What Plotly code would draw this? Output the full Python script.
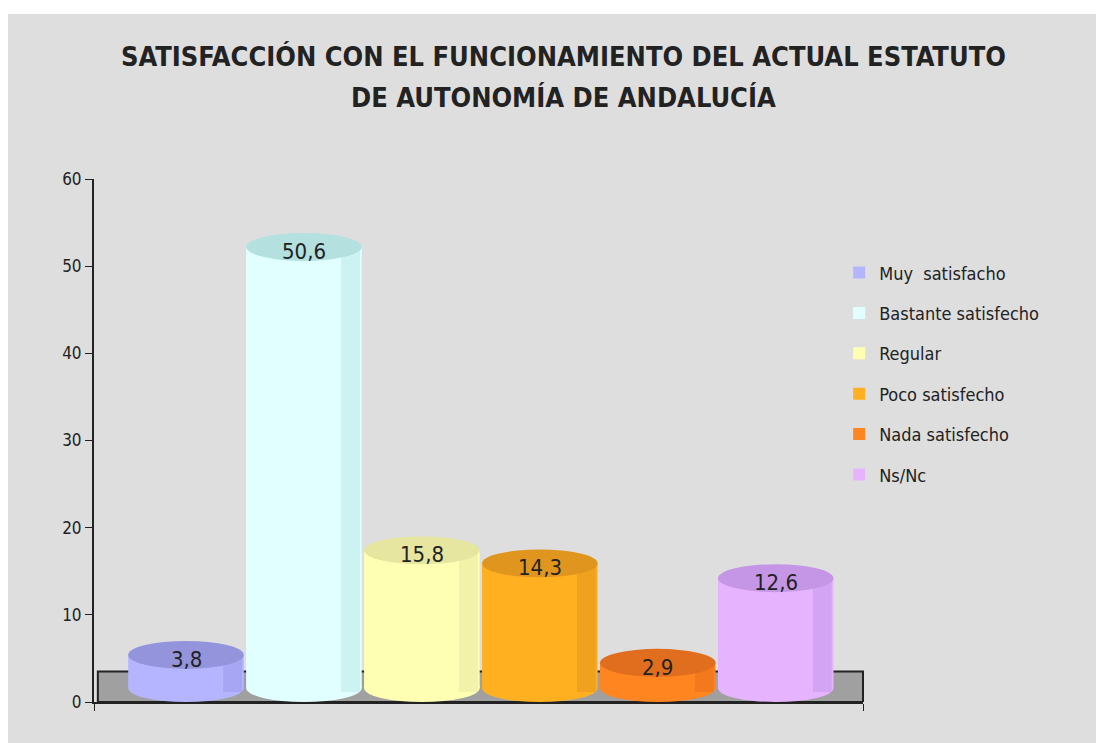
import plotly.graph_objects as go

categories = ["Muy  satisfacho", "Bastante satisfecho", "Regular",
              "Poco satisfecho", "Nada satisfecho", "Ns/Nc"]
values = [3.8, 50.6, 15.8, 14.3, 2.9, 12.6]
labels = ["3,8", "50,6", "15,8", "14,3", "2,9", "12,6"]
y_ticks = [0, 10, 20, 30, 40, 50, 60]
title_lines = ["SATISFACCIÓN CON EL FUNCIONAMIENTO DEL ACTUAL ESTATUTO",
               "DE AUTONOMÍA DE ANDALUCÍA"]

front_colors = ["#b4b4ff", "#e2ffff", "#ffffb4", "#ffb020", "#ff8520", "#e6b4ff"]
shade_colors = ["#a6a6f4", "#cdf2f2", "#f2f2aa", "#f0a21e", "#f27a1c", "#d4a4f4"]
cap_colors = ["#9494dc", "#b4e0e0", "#e6e6a0", "#e0961e", "#e06e1e", "#c696e6"]

FONT = "DejaVu Sans Condensed, Liberation Sans Narrow, Arial Narrow, sans-serif"
CAP_H = 3.2      # height of the cylinder top ellipse, in data units
BAR_W = 0.98
SHADE_W = 0.16
X_RANGE = [-0.78, 5.74]

fig = go.Figure()

shapes = [
    # grey panel behind everything
    dict(type="rect", xref="paper", yref="paper", x0=-0.112, x1=1.5, y0=-0.2, y1=1.3155,
         fillcolor="#dedede", line=dict(width=0), layer="below"),
    # 3D floor
    dict(type="rect", xref="paper", yref="y", x0=0.005, x1=1, y0=0, y1=3.5,
         fillcolor="#a0a0a0", line=dict(color="#222222", width=2), layer="below"),
]

for i, (cat, v) in enumerate(zip(categories, values)):
    fig.add_trace(go.Bar(
        x=[i], y=[v], base=[CAP_H / 2],
        width=BAR_W, name=cat, legendgroup=cat,
        marker=dict(color=front_colors[i], line=dict(width=0)),
        hoverinfo="skip",
    ))
    # darker right side of the cylinder
    fig.add_trace(go.Bar(
        x=[i + BAR_W / 2 - SHADE_W / 2 - 0.015], y=[v + CAP_H / 2 - 1.15], base=[1.15],
        width=SHADE_W, legendgroup=cat, showlegend=False,
        marker=dict(color=shade_colors[i], line=dict(width=0)),
        hoverinfo="skip",
    ))
    # rounded bottom of the cylinder
    shapes.append(dict(type="circle", xref="x", yref="y",
                       x0=i - BAR_W / 2, x1=i + BAR_W / 2, y0=0, y1=CAP_H,
                       fillcolor=front_colors[i], line=dict(width=0), layer="below"))
    # top ellipse
    shapes.append(dict(type="circle", xref="x", yref="y",
                       x0=i - BAR_W / 2, x1=i + BAR_W / 2, y0=v, y1=v + CAP_H,
                       fillcolor=cap_colors[i], line=dict(width=0), layer="above"))

annotations = [
    dict(x=i, y=v + 1.1, xref="x", yref="y", text=lab, showarrow=False,
         font=dict(family=FONT, size=22, color="#222222"))
    for i, (v, lab) in enumerate(zip(values, labels))
]
for line, ypos in zip(title_lines, [1.235, 1.155]):
    annotations.append(dict(
        x=0.61, y=ypos, xref="paper", yref="paper", text=line, showarrow=False,
        xanchor="center", yanchor="middle",
        font=dict(family=FONT, size=27, color="#222222", weight="bold"),
    ))

fig.update_layout(
    width=1104, height=743,
    margin=dict(l=86, r=249, t=171, b=49),
    paper_bgcolor="white",
    plot_bgcolor="rgba(0,0,0,0)",
    barmode="overlay",
    shapes=shapes,
    annotations=annotations,
    legend=dict(
        x=0.969, xanchor="left", y=0.856, yanchor="top",
        font=dict(family=FONT, size=18, color="#222222"),
        tracegroupgap=14, itemwidth=30, bgcolor="rgba(0,0,0,0)",
    ),
    xaxis=dict(
        range=X_RANGE, showgrid=False, zeroline=False,
        showline=True, linecolor="#222222", linewidth=2,
        tickmode="array", tickvals=X_RANGE, ticktext=["", ""],
        ticks="outside", ticklen=7, tickcolor="#222222", tickwidth=1,
    ),
    yaxis=dict(
        range=[0, 60], tickvals=y_ticks, showgrid=False, zeroline=False,
        showline=True, linecolor="#222222", linewidth=2,
        ticks="outside", ticklen=7, tickcolor="#222222", tickwidth=1,
        tickfont=dict(family=FONT, size=17, color="#222222"),
    ),
    showlegend=True,
)

fig.write_html("out.html")
